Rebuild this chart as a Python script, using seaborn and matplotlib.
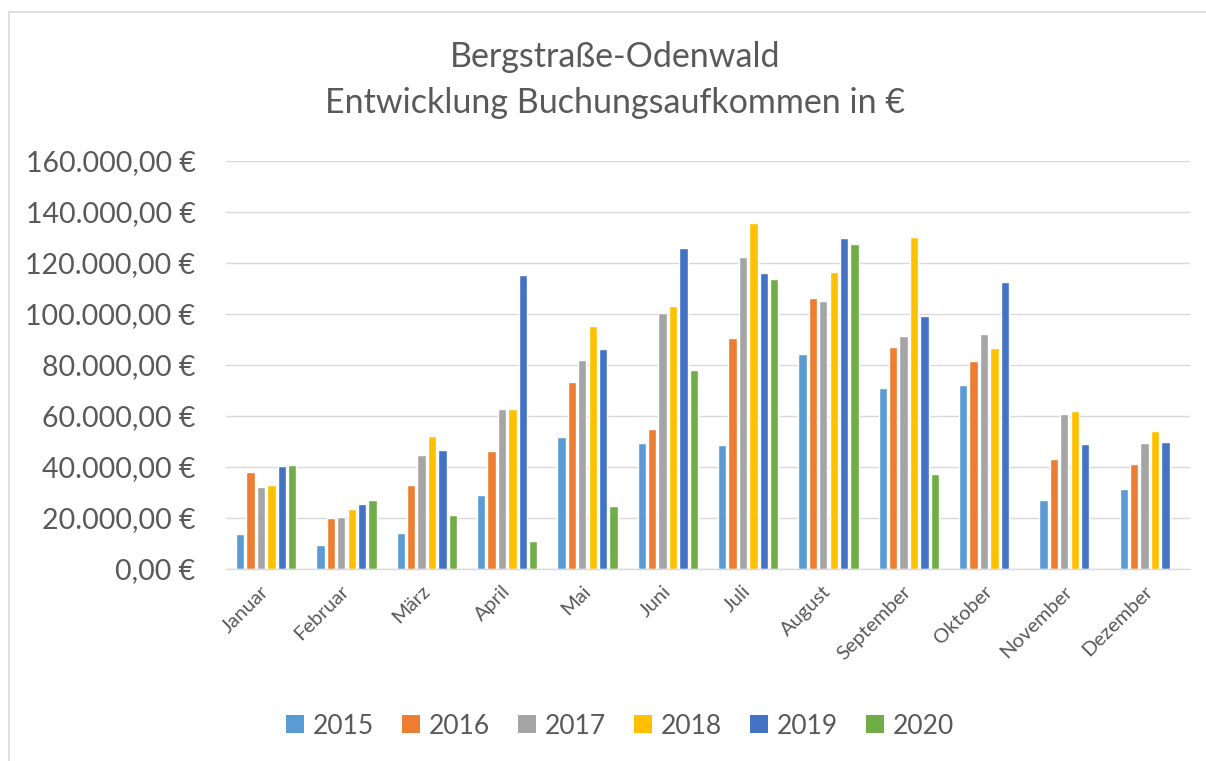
import numpy as np
import pandas as pd
import matplotlib
matplotlib.use("Agg")
import matplotlib.pyplot as plt
import seaborn as sns
from matplotlib.patches import Rectangle, Patch
from matplotlib.ticker import FuncFormatter, MultipleLocator

months = ["Januar", "Februar", "März", "April", "Mai", "Juni", "Juli",
          "August", "September", "Oktober", "November", "Dezember"]
years = ["2015", "2016", "2017", "2018", "2019", "2020"]

v2015 = [13700, 9300, 14000, 28900, 51800, 49400, 48500, 84400, 70900, 72300, 27100, 31400]
v2016 = [38000, 20100, 32900, 46400, 73200, 54900, 90700, 106100, 87100, 81600, 43300, 41300]
v2017 = [32000, 20400, 44800, 62700, 82000, 100400, 122200, 105100, 91200, 92000, 60700, 49400]
v2018 = [32900, 23700, 52200, 62600, 95200, 103300, 135800, 116500, 130100, 86500, 61800, 54300]
v2019 = [40300, 25400, 46700, 115300, 86100, 126000, 116200, 129900, 99100, 112600, 48900, 49900]
v2020 = [40800, 27200, 21200, 11000, 24700, 78200, 113700, 127500, 37300, np.nan, np.nan, np.nan]

colors = ["#5B9BD5", "#ED7D31", "#A5A5A5", "#FFC000", "#4472C4", "#70AD47"]

series = [v2015, v2016, v2017, v2018, v2019, v2020]
rows = []
for y, vals in zip(years, series):
    for m, v in zip(months, vals):
        rows.append({"Monat": m, "Jahr": y, "Wert": v})
df = pd.DataFrame(rows)

sns.set_theme(style="white")
plt.rcParams["font.family"] = ["Lato", "DejaVu Sans"]
text_color = "#595959"

fig = plt.figure(figsize=(12.06, 7.61), dpi=100)
ax = fig.add_axes([226/1206, 1-569/761, (1190-226)/1206, (569-161)/761])

sns.barplot(data=df, x="Monat", y="Wert", hue="Jahr", order=months,
            hue_order=years, palette=colors, width=0.78, gap=0.2,
            errorbar=None, legend=False, ax=ax, saturation=1)

ax.set_ylim(0, 160000)
ax.set_xlim(-0.5, 11.5)
ax.yaxis.set_major_locator(MultipleLocator(20000))

def de_fmt(v, pos):
    s = f"{v:,.2f}".replace(",", "X").replace(".", ",").replace("X", ".")
    return s + " €"

ax.yaxis.set_major_formatter(FuncFormatter(de_fmt))
ax.grid(axis="y", color="#D9D9D9", linewidth=1.0)
ax.set_axisbelow(True)
for s in ["top", "right", "left"]:
    ax.spines[s].set_visible(False)
ax.spines["bottom"].set_color("#D9D9D9")
ax.spines["bottom"].set_linewidth(1.0)
ax.set_xlabel("")
ax.set_ylabel("")
ax.tick_params(axis="y", length=0, pad=22, labelsize=20.5, labelcolor=text_color)
ax.tick_params(axis="x", length=0, pad=14, labelsize=14.5, labelcolor=text_color)
for lab in ax.get_xticklabels():
    lab.set_rotation(45)
    lab.set_ha("right")
    lab.set_va("center")
    lab.set_rotation_mode("anchor")

fig.text(615/1206, 1-57/761, "Bergstraße-Odenwald", ha="center", va="center",
         fontsize=24.5, color=text_color)
fig.text(615/1206, 1-103/761, "Entwicklung Buchungsaufkommen in €", ha="center",
         va="center", fontsize=24.5, color=text_color)

handles = [Patch(facecolor=c, edgecolor="none", label=y) for c, y in zip(colors, years)]
fig.legend(handles=handles, loc="center", bbox_to_anchor=(620/1206, 1-726/761),
           ncol=6, frameon=False, fontsize=19, handlelength=0.68, handleheight=0.68,
           handletextpad=0.3, columnspacing=1.1, labelcolor=text_color)

fig.patches.append(Rectangle((9/1206, -0.1), 1.2, 1 - 12/761 + 0.1,
                             transform=fig.transFigure, fill=False,
                             edgecolor="#D9D9D9", linewidth=1.2))

fig.savefig("out.png", dpi=100)
